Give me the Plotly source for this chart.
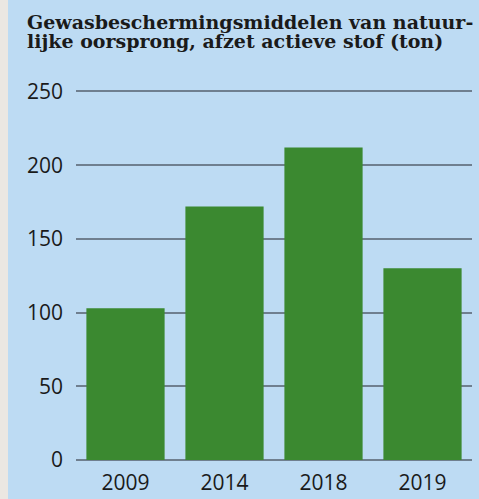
import plotly.graph_objects as go

years = ["2009", "2014", "2018", "2019"]
values = [103, 172, 212, 130]
y_ticks = [0, 50, 100, 150, 200, 250]
title_lines = ["Gewasbeschermingsmiddelen van natuur-", "lijke oorsprong, afzet actieve stof (ton)"]

W, H = 479, 499
L, R, T, B = 76, 7, 90, 39
pw = W - L - R
ph = H - T - B

fig = go.Figure(go.Bar(x=years, y=values, marker=dict(color="#3b8930", line=dict(width=0))))

annotations = []
for i, line in enumerate(title_lines):
    top_px = 10 + i * 19
    annotations.append(dict(text=line, xref="paper", yref="paper",
                            x=(26 - L) / pw, xanchor="left",
                            y=1 + (T - top_px) / ph, yanchor="top",
                            showarrow=False, borderpad=0,
                            font=dict(family="DejaVu Serif", size=19, color="#1a1a1a", weight="bold")))

fig.update_layout(
    width=W, height=H,
    margin=dict(l=L, r=R, t=T, b=B, autoexpand=False),
    paper_bgcolor="#bddbf3",
    plot_bgcolor="#bddbf3",
    bargap=0.21,
    showlegend=False,
    annotations=annotations,
    font=dict(family="Open Sans", size=21, color="#1a1a1a"),
    xaxis=dict(showgrid=False, showline=False, ticks="", ticklabelstandoff=8, automargin=False,
               tickfont=dict(family="Open Sans", size=21, color="#1a1a1a")),
    yaxis=dict(range=[0, 251], tickvals=y_ticks, showgrid=True, gridcolor="#6f7f8f", gridwidth=2,
               zeroline=True, zerolinecolor="#6f7f8f", zerolinewidth=2, automargin=False,
               showline=False, ticks="", ticklabelstandoff=12,
               tickfont=dict(family="Open Sans", size=21, color="#1a1a1a")),
    shapes=[dict(type="rect", xref="paper", yref="paper",
                 x0=-L / pw, x1=-(L - 8) / pw, y0=-B / ph, y1=1 + T / ph,
                 fillcolor="#ebe7e2", line=dict(width=0), layer="below")],
)

fig.write_html("out.html", config={"displayModeBar": False},
               post_script="document.body.style.margin='0';document.body.style.overflow='hidden';")
